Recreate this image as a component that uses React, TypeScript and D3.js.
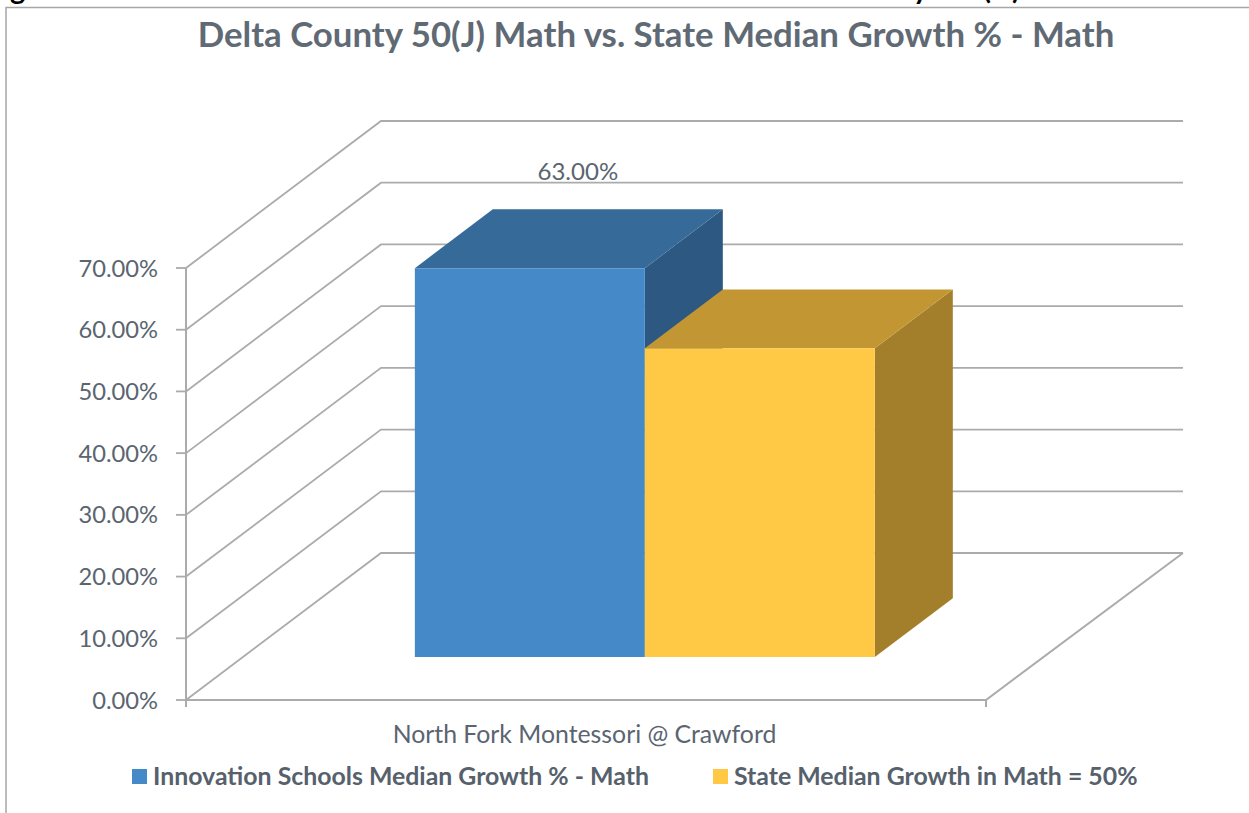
import * as d3 from 'd3';

const categories = ['North Fork Montessori @ Crawford'];
const seriesNames = ['Innovation Schools Median Growth % - Math', 'State Median Growth in Math = 50%'];
const seriesValues = [63, 50];
const valueLabels = ['63.00%', ''];
const yTicks = [0, 10, 20, 30, 40, 50, 60, 70];
const title = 'Delta County 50(J) Math vs. State Median Growth % - Math';

// bottoms of a line of text cut off by the top edge of the picture
const cutOffGlyphs = ['g', 'y', '(', ')'];
const cutOffX = [10, 913, 983, 1012];

const palette = [
  { front: '#4689c8', top: '#356a99', side: '#2d5882' },
  { front: '#ffc845', top: '#c29733', side: '#a37f2b' },
];

const textColor = '#5a6570';
const gridColor = '#ababab';
const font = 'Lato, sans-serif';

// floor corners of the 3D box
const frontLeft = 186;
const frontRight = 986;
const frontBase = 700;
const depthX = 195;
const depthY = -147;

const y = d3.scaleLinear().domain([0, 70]).range([0, -432]);

// bars sit part way into the floor and take up part of its depth
const barDepthStart = 0.293;
const barDepthSize = 0.4;

const x = d3.scaleBand<string>().domain(categories).range([frontLeft, frontRight]);
const inner = d3.scaleBand<string>().domain(seriesNames).range([171.7, 631.7]);

const project = (px: number, value: number, depth: number): [number, number] => [
  px + depth * depthX,
  frontBase + y(value) + depth * depthY,
];

const poly = d3.line();

export default function App() {
  const d0 = barDepthStart;
  const d1 = barDepthStart + barDepthSize;
  const catX = x(categories[0]) as number;

  return (
    <svg
      width={1249}
      height={813}
      style={{ position: 'fixed', left: 0, top: 0, background: '#fff', fontFamily: font }}
    >
      {cutOffGlyphs.map((g, i) => (
        <text key={i} x={cutOffX[i]} y={-1} fontSize={29} fontWeight={700} fill="#000">
          {g}
        </text>
      ))}

      {/* frame of the pasted picture */}
      <path d="M6,813V7.5H1249" fill="none" stroke="#a6a6a6" strokeWidth={1.5} />

      <text x={656} y={47} textAnchor="middle" fontSize={34.8} fontWeight={700} fill="#5f6a75">
        {title}
      </text>

      {/* walls */}
      {yTicks.map(t => {
        const a = project(frontLeft, t, 0);
        const b = project(frontLeft, t, 1);
        const c = project(frontRight + 2, t, 1);
        return (
          <path key={t} d={poly([a, b, c]) as string} fill="none" stroke={gridColor} strokeWidth={1.8} />
        );
      })}

      {/* floor and axes */}
      <path
        d={poly([project(frontLeft, 0, 0), project(frontRight, 0, 0), project(frontRight + 2, 0, 1)]) as string}
        fill="none"
        stroke={gridColor}
        strokeWidth={2}
      />
      <path
        d={poly([project(frontLeft, 70, 0), project(frontLeft, 0, 0)]) as string}
        fill="none"
        stroke={gridColor}
        strokeWidth={2}
      />
      <path d={`M${frontLeft},${frontBase}v7M${frontRight},${frontBase}v7`} stroke={gridColor} strokeWidth={2} />
      {yTicks.map(t => (
        <g key={t} transform={`translate(${frontLeft},${frontBase + y(t)})`}>
          <line x1={-10} x2={0} stroke={gridColor} strokeWidth={1.8} />
          <text x={-28} dy="0.36em" textAnchor="end" fontSize={23.7} fill={textColor}>
            {`${t.toFixed(2)}%`}
          </text>
        </g>
      ))}

      {/* bars */}
      {seriesNames.map((name, i) => {
        const left = catX + (inner(name) as number);
        const right = left + inner.bandwidth();
        const v = seriesValues[i];
        const c = palette[i];
        return (
          <g key={name}>
            <path
              d={`${poly([project(right, v, d0), project(right, v, d1), project(right, 0, d1), project(right, 0, d0)])}Z`}
              fill={c.side}
            />
            <path
              d={`${poly([project(left, v, d0), project(left, v, d1), project(right, v, d1), project(right, v, d0)])}Z`}
              fill={c.top}
            />
            <path
              d={`${poly([project(left, v, d0), project(right, v, d0), project(right, 0, d0), project(left, 0, d0)])}Z`}
              fill={c.front}
            />
            {valueLabels[i] && (
              <text
                x={project((left + right) / 2, v, d0)[0] + 48}
                y={project(left, v, d1)[1] - 29}
                textAnchor="middle"
                fontSize={24}
                fill={textColor}
              >
                {valueLabels[i]}
              </text>
            )}
          </g>
        );
      })}

      <text x={584.5} y={743} textAnchor="middle" fontSize={24.8} fill={textColor}>
        {categories[0]}
      </text>

      {/* legend */}
      {seriesNames.map((name, i) => {
        const lx = [132, 713][i];
        return (
          <g key={name} transform={`translate(${lx},769)`}>
            <rect width={15} height={15} fill={palette[i].front} />
            <text x={21} y={16} fontSize={24.85} fontWeight={700} fill="#56616c">
              {name}
            </text>
          </g>
        );
      })}
    </svg>
  );
}
